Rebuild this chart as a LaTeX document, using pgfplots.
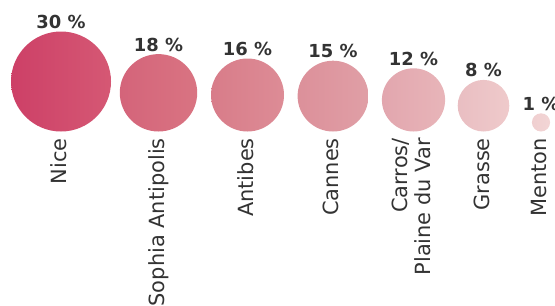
\documentclass[border=0pt]{standalone}
\usepackage{pgfplots}
\pgfplotsset{compat=1.18}
\usepackage{fontspec}
\setmainfont{DejaVu Sans}
\definecolor{txt}{HTML}{333333}
\definecolor{cl1}{HTML}{CD4067}\definecolor{cr1}{HTML}{D55874}
\definecolor{cl2}{HTML}{D4647A}\definecolor{cr2}{HTML}{D97482}
\definecolor{cl3}{HTML}{D87C89}\definecolor{cr3}{HTML}{DD8C96}
\definecolor{cl4}{HTML}{DC909A}\definecolor{cr4}{HTML}{E09FA6}
\definecolor{cl5}{HTML}{E2A6AE}\definecolor{cr5}{HTML}{E8B5B9}
\definecolor{cl6}{HTML}{E9BEC2}\definecolor{cr6}{HTML}{EFCACB}
\definecolor{cl7}{HTML}{F0CFD0}\definecolor{cr7}{HTML}{F2D5D5}
\pgfplotstableread{
id x     y    r    p
1  61    56.5 50   30
2  158.5 45.2 38.7 18
3  247.5 43   36.5 16
4  333   41.9 35.4 15
5  413.5 38.1 31.6 12
6  483.5 32.3 25.8 8
7  541   15.6 9.1  1
}\bubbles
\begin{document}
\begin{tikzpicture}[x=1bp,y=1bp]
\begin{scope}
\clip (0,-167) rectangle (555,138);
\begin{axis}[
  at={(0,0)}, anchor=south west,
  scale only axis, width=555bp, height=138bp,
  xmin=0, xmax=555, ymin=0, ymax=138,
  clip=false,
  axis line style={draw=none},
  ytick=\empty,
  xtick={61,158.5,247.5,333,413.5,483.5,541},
  xticklabels={Nice\vphantom{p},Sophia Antipolis,Antibes\vphantom{p},Cannes\vphantom{p},{Carros/\\Plaine du Var\vphantom{p}},Grasse\vphantom{p},Menton\vphantom{p}},
  major tick length=0pt,
  tick style={draw=none},
  xticklabel style={rotate=90, anchor=east, align=right, inner sep=0pt, font=\fontsize{21}{22.5}\selectfont, text=txt},
  /pgf/number format/assume math mode=true,
]
% bubbles (area proportional to share)
\addplot[only marks, mark=none,
  point meta=explicit symbolic,
  visualization depends on={\thisrow{r}\as\rad},
  nodes near coords={},
  every node near coord/.style={circle, inner sep=0pt, anchor=center, draw=none,
     minimum size=2*\rad bp, left color=cl\pgfplotspointmeta, right color=cr\pgfplotspointmeta},
] table[x=x, y=y, meta=id] {\bubbles};
% percentage labels
\addplot[only marks, mark=none,
  point meta=explicit,
  visualization depends on={\thisrow{r}\as\rad},
  nodes near coords={\pgfmathprintnumber{\pgfplotspointmeta}~\%},
  every node near coord/.style={anchor=base, yshift=\rad bp+3bp,
     font=\bfseries\fontsize{18}{20}\selectfont, text=txt, inner sep=0pt},
] table[x=x, y=y, meta=p] {\bubbles};
\end{axis}
\end{scope}
\pgfresetboundingbox
\path[use as bounding box] (0,-167) rectangle (555,138);
\end{tikzpicture}
\end{document}
